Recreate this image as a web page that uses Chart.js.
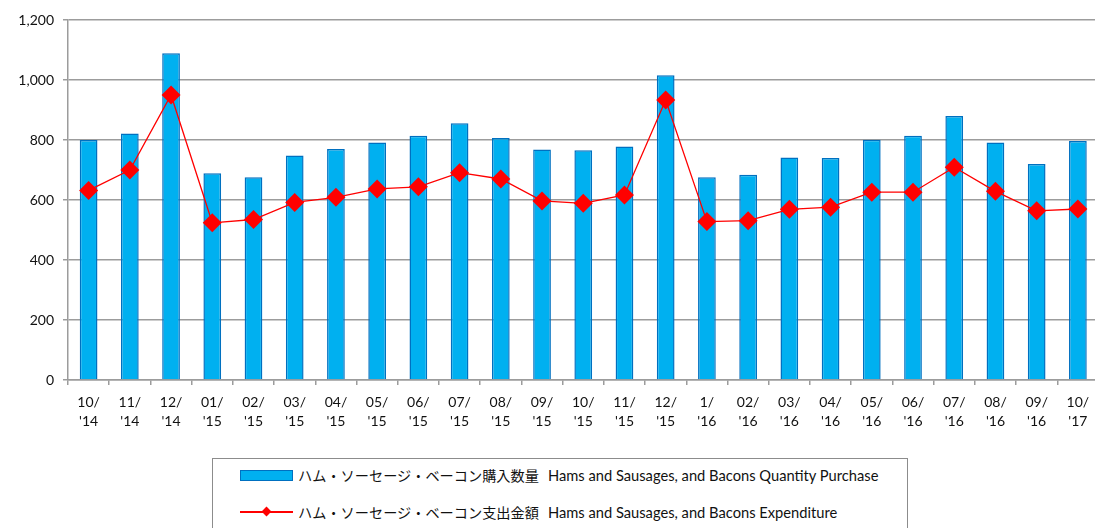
<!DOCTYPE html>
<html>
<head>
<meta charset="utf-8">
<script src="https://cdn.jsdelivr.net/npm/chart.js@4"></script>
<style>
    html, body { margin: 0; padding: 0; background: #fff; overflow: hidden; }
    body { width: 1095px; height: 528px; position: relative; }
    #wrap { position: absolute; left: 0; top: 0; width: 1108px; height: 440px; }
    .legend-box {
        position: absolute; left: 212px; top: 458px; width: 696px; height: 100px;
        border: 1px solid #8c8c8c; box-sizing: border-box;
    }
    .item { position: absolute; left: 27px; height: 20px; display: flex; align-items: center; white-space: nowrap; }
    .jp { font-family: "Noto Sans CJK JP", sans-serif; font-size: 14.2px; color: #111; }
    .en { font-family: Lato, "Open Sans", sans-serif; font-size: 14.7px; color: #111; margin-left: 9px; }
    .bar-swatch { width: 51px; height: 9px; background: #00B0F0; border: 1px solid #0070C0; margin-right: 5px; }
    .line-swatch { position: relative; width: 53px; height: 10px; margin-right: 5px; }
    .line-swatch::before { content: ''; position: absolute; left: 0; right: 0; top: 4px; height: 1.5px; background: #FF0000; }
    .line-swatch::after { content: ''; position: absolute; left: 23px; top: 1px; width: 7px; height: 7px; background: #FF0000; transform: rotate(45deg); }
</style>
</head>
<body>
<div id="wrap"><canvas id="chart"></canvas></div>
<div class="legend-box">
    <div class="item" style="top: 6px;">
        <div class="bar-swatch"></div>
        <span class="jp">ハム・ソーセージ・ベーコン購入数量</span>
        <span class="en">Hams and Sausages, and Bacons Quantity Purchase</span>
    </div>
    <div class="item" style="top: 43px;">
        <div class="line-swatch"></div>
        <span class="jp">ハム・ソーセージ・ベーコン支出金額</span>
        <span class="en">Hams and Sausages, and Bacons Expenditure</span>
    </div>
</div>
<script>
// Monthly labels, two lines each
const months = ['10/', '11/', '12/', '01/', '02/', '03/', '04/', '05/', '06/', '07/', '08/', '09/', '10/',
    '11/', '12/', '1/', '02/', '03/', '04/', '05/', '06/', '07/', '08/', '09/', '10/'];
const years = ["'14", "'14", "'14", "'15", "'15", "'15", "'15", "'15", "'15", "'15", "'15", "'15", "'15",
    "'15", "'15", "'16", "'16", "'16", "'16", "'16", "'16", "'16", "'16", "'16", "'17"];

// Quantity purchased (bars)
const quantity = [800, 822, 1089, 689, 676, 748, 770, 792, 814, 856, 807, 768, 766,
    778, 1016, 676, 684, 742, 740, 801, 814, 880, 792, 720, 797];

// Expenditure (line)
const expenditure = [632, 700, 950, 524, 535, 592, 609, 637, 644, 691, 670, 597, 589,
    617, 933, 528, 531, 569, 576, 626, 626, 709, 629, 564, 570];

const yTicks = [0, 200, 400, 600, 800, 1000, 1200];

const labels = months.map((m, i) => [m, years[i]]);

const gridColor = '#9c9c9c';
const tickFont = { family: 'Lato, "Open Sans", sans-serif', size: 14 };

new Chart(document.getElementById('chart'), {
    data: {
        labels: labels,
        datasets: [
            {
                type: 'line',
                label: 'ハム・ソーセージ・ベーコン支出金額',
                data: expenditure,
                borderColor: '#FF0000',
                borderWidth: 1.3,
                tension: 0,
                pointStyle: 'rectRot',
                pointRadius: 9.5,
                pointBackgroundColor: '#FF0000',
                pointBorderColor: '#FF0000',
                pointBorderWidth: 0,
                order: 0
            },
            {
                type: 'bar',
                label: 'ハム・ソーセージ・ベーコン購入数量',
                data: quantity,
                backgroundColor: '#00B0F0',
                borderColor: '#0070C0',
                borderWidth: 1.5,
                barPercentage: 0.43,
                categoryPercentage: 1,
                order: 1
            }
        ]
    },
    options: {
        responsive: true,
        maintainAspectRatio: false,
        animation: false,
        layout: { padding: { top: 20, right: 2, bottom: 0, left: 0 } },
        plugins: {
            legend: { display: false },
            tooltip: { enabled: false }
        },
        scales: {
            x: {
                offset: true,
                grid: {
                    offset: true,
                    drawOnChartArea: false,
                    color: gridColor,
                    lineWidth: 1.5,
                    tickLength: 5
                },
                border: { color: gridColor, width: 1.5 },
                ticks: {
                    color: '#111',
                    font: { ...tickFont, lineHeight: 1.35 },
                    padding: 8,
                    maxRotation: 0,
                    autoSkip: false
                },
                afterFit: scale => { scale.height = 60; }
            },
            y: {
                min: 0,
                max: 1200,
                afterBuildTicks: scale => { scale.ticks = yTicks.map(v => ({ value: v })); },
                grid: {
                    color: gridColor,
                    lineWidth: 1.5,
                    tickLength: 5
                },
                border: { color: gridColor, width: 1.5 },
                ticks: {
                    color: '#111',
                    font: tickFont,
                    padding: 9,
                    callback: v => v.toLocaleString('en-US')
                },
                afterFit: scale => { scale.width = 68; }
            }
        }
    }
});
</script>
</body>
</html>
